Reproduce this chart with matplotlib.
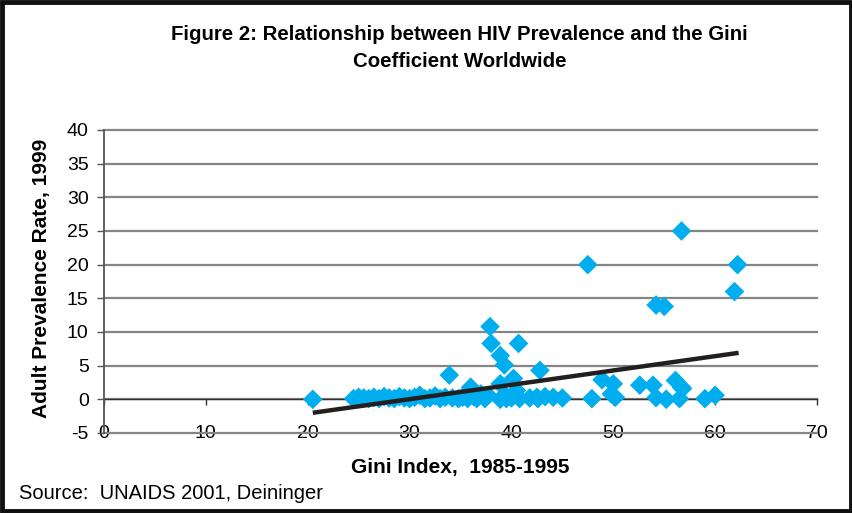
import matplotlib
matplotlib.use("Agg")
import matplotlib.pyplot as plt
from matplotlib.patches import Rectangle

# ===== DATA =====
gini = [20.5,
        24.5, 25.0, 25.5, 26.0, 26.5, 27.0, 27.5, 28.0, 28.5, 29.0,
        29.5, 30.0, 30.5, 31.0, 31.5, 32.0, 32.5, 33.0, 33.5,
        33.9, 34.2, 34.8, 35.2, 35.7, 36.0, 36.3, 36.6, 37.0, 37.7, 37.4,
        37.9, 38.0, 38.9, 39.3, 40.7, 40.2, 38.9, 40.5, 39.4, 38.9,
        39.5, 40.0, 40.8, 41.8, 42.6, 42.8, 43.3, 44.1, 45.0, 42.5,
        47.5, 47.9, 48.9, 50.0, 49.8, 50.2, 52.6, 53.9, 54.2, 55.2,
        56.1, 56.7, 56.5, 56.8, 59.0, 60.0, 54.2, 55.0, 56.7, 62.2, 61.9]
prevalence = [0.0,
              0.1, 0.3, 0.2, 0.1, 0.3, 0.1, 0.4, 0.2, 0.1, 0.4,
              0.2, 0.1, 0.3, 0.6, 0.1, 0.2, 0.5, 0.1, 0.3,
              3.6, 0.2, 0.1, 0.3, 0.1, 1.8, 0.4, 0.1, 0.8, 0.6, 0.1,
              10.8, 8.3, 6.5, 5.1, 8.3, 3.1, 2.3, 1.3, 0.6, 0.0,
              0.1, 0.2, 0.1, 0.2, 0.1, 4.3, 0.4, 0.3, 0.2, 0.3,
              20.0, 0.1, 2.9, 2.3, 0.8, 0.3, 2.1, 2.1, 0.25, 0.0,
              2.8, 1.8, 0.1, 1.6, 0.1, 0.6, 14.0, 13.8, 25.0, 20.0, 16.0]

# linear trend line as drawn in the original
trend_x = [20.5, 62.3]
trend_y = [-2.0, 6.9]

x_ticks = [0, 10, 20, 30, 40, 50, 60, 70]
y_ticks = [-5, 0, 5, 10, 15, 20, 25, 30, 35, 40]

plt.rcParams['font.family'] = ['Liberation Sans', 'DejaVu Sans']
plt.rcParams['axes.unicode_minus'] = False

fig = plt.figure(figsize=(8.53, 5.13), dpi=100)
ax = fig.add_axes([0.1219, 0.156, 0.8359, 0.5906])

# gridlines
ax.set_xlim(0, 70)
ax.set_ylim(-5, 40)
ax.set_yticks(y_ticks)
ax.yaxis.grid(True, color='#858585', lw=1.6)
for gl in ax.get_ygridlines():
    gl.set_clip_on(False)
ax.set_axisbelow(True)

# data
ax.scatter(gini, prevalence, marker='D', s=100, color='#00AEEF',
           edgecolors='none', zorder=3, clip_on=False)
ax.plot(trend_x, trend_y, color='#231F20', lw=3.2, zorder=4,
        solid_capstyle='butt')

# axes: y-axis at x=0, x-axis line at y=0 with labels at the bottom
for s in ['top', 'right']:
    ax.spines[s].set_visible(False)
ax.spines['left'].set_color('#555555')
ax.spines['left'].set_linewidth(1.3)
ax.spines['bottom'].set_position(('data', 0))
ax.spines['bottom'].set_color('#333333')
ax.spines['bottom'].set_linewidth(1.0)
ax.spines['bottom'].set_zorder(2)

ax.set_xticks(x_ticks)
ax.tick_params(axis='x', direction='out', length=4, width=1,
               color='#333333', pad=14.5, labelsize=14)
ax.tick_params(axis='y', direction='out', length=5, width=1,
               color='#555555', pad=6, labelsize=14)

ax.set_ylabel('Adult Prevalence Rate, 1999', fontsize=15,
              fontweight='bold')
ax.yaxis.set_label_coords(-0.075, 0.51)

fig.text(0.540, 0.088, 'Gini Index,  1985-1995', fontsize=15,
         fontweight='bold', ha='center', va='center')
fig.text(0.022, 0.038, 'Source:  UNAIDS 2001, Deininger', fontsize=14.5,
         ha='left', va='center')
fig.text(0.539, 0.906,
         'Figure 2: Relationship between HIV Prevalence and the Gini\n'
         'Coefficient Worldwide', fontsize=14.7, fontweight='bold',
         ha='center', va='center', linespacing=1.55)

# frame around the figure
fig.patches.append(Rectangle((0.002, 0.003), 0.996, 0.994,
                             transform=fig.transFigure, fill=False,
                             edgecolor='#111111', lw=3.5))

fig.savefig('out.png', dpi=100, facecolor='white')
